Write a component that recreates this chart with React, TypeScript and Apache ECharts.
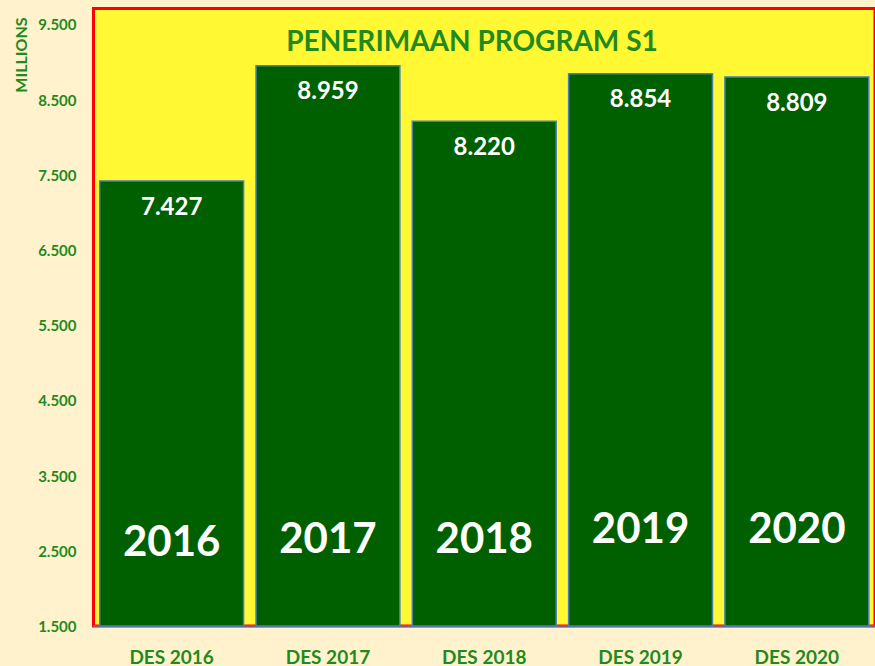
import React, { useEffect, useRef } from "react";
import * as echarts from "echarts";

const categories = ["DES 2016", "DES 2017", "DES 2018", "DES 2019", "DES 2020"];
const values = [7427, 8959, 8220, 8854, 8809];
const yearLabels = ["2016", "2017", "2018", "2019", "2020"];
const yearLabelLevel = [2650, 2680, 2680, 2810, 2810];
const yTicks = [1500, 2500, 3500, 4500, 5500, 6500, 7500, 8500, 9500];

const FONT = "Lato";
const GREEN_TEXT = "#1F8A1F";

const fmt = (v: number) =>
  Math.round(v)
    .toString()
    .replace(/\B(?=(\d{3})+(?!\d))/g, ".");

export default function App() {
  const ref = useRef<HTMLDivElement>(null);
  useEffect(() => {
    if (!ref.current) return;
    const chart = echarts.init(ref.current, null, { renderer: "svg" });
    chart.setOption({
      animation: false,
      backgroundColor: "#FFF2CC",
      title: {
        text: "PENERIMAAN PROGRAM S1",
        left: 467,
        top: 21,
        textAlign: "center",
        textStyle: {
          fontFamily: FONT,
          fontWeight: "bold",
          fontSize: 28,
          color: GREEN_TEXT,
        },
      },
      graphic: [
        {
          type: "text",
          x: 20,
          y: 55,
          rotation: Math.PI / 2,
          style: {
            text: "MILLIONS",
            fontFamily: FONT,
            fontWeight: "bold",
            fontSize: 16,
            fill: GREEN_TEXT,
            align: "center",
            verticalAlign: "middle",
          },
        },
      ],
      grid: {
        show: true,
        left: 93.5,
        top: 8.5,
        width: 785,
        height: 618.5,
        backgroundColor: "#FFF833",
        borderColor: "#FF0000",
        borderWidth: 3,
      },
      xAxis: {
        type: "category",
        data: categories,
        axisLine: { show: true, lineStyle: { color: "#4A7EBB", width: 1.5 } },
        axisTick: { show: false },
        axisLabel: {
          margin: 21,
          fontFamily: FONT,
          fontWeight: "bold",
          fontSize: 19,
          color: GREEN_TEXT,
        },
      },
      yAxis: {
        type: "value",
        min: 1500,
        max: 9710,
        axisLine: { show: false },
        axisTick: { show: false },
        splitLine: { show: false },
        axisLabel: {
          customValues: yTicks,
          margin: 17,
          fontFamily: FONT,
          fontWeight: "bold",
          fontSize: 15,
          color: GREEN_TEXT,
          formatter: (v: number) => fmt(v),
        },
      },
      series: [
        {
          type: "bar",
          data: values,
          barCategoryGap: "7%",
          itemStyle: {
            color: "#006000",
            borderColor: "#4A7EBB",
            borderWidth: 1.5,
          },
          label: {
            show: true,
            position: "insideTop",
            distance: 13,
            fontFamily: FONT,
            fontWeight: "bold",
            fontSize: 24,
            color: "#FFFFFF",
            formatter: (p: any) => fmt(p.value),
          },
          z: 2,
        },
        {
          type: "scatter",
          data: yearLabelLevel,
          symbolSize: 0,
          silent: true,
          itemStyle: { opacity: 1 },
          label: {
            show: true,
            position: "inside",
            fontFamily: FONT,
            fontWeight: "bold",
            fontSize: 42,
            color: "#FFFFFF",
            opacity: 1,
            formatter: (p: any) => yearLabels[p.dataIndex],
          },
          z: 3,
        },
      ],
    });
    return () => chart.dispose();
  }, []);
  return (
    <div
      ref={ref}
      style={{ position: "fixed", left: 0, top: 0, width: 875, height: 666 }}
    />
  );
}
